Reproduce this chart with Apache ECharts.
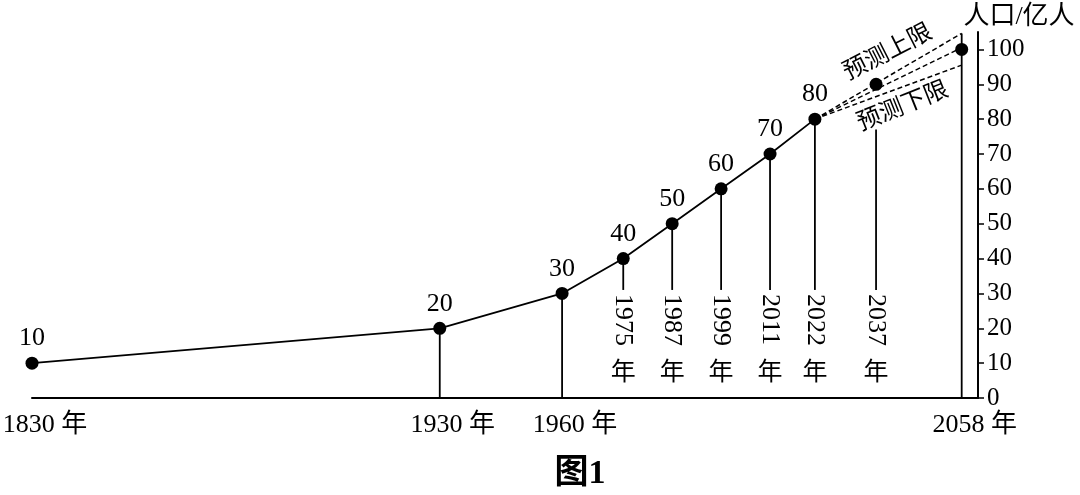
<!DOCTYPE html><html><head><meta charset="utf-8"><script src="https://cdn.jsdelivr.net/npm/echarts@6/dist/echarts.min.js"></script>
<style>html,body{margin:0;background:#fff}#c{width:1080px;height:495px}</style></head><body><div id="c"></div>
<script>
const years=[1830,1930,1960,1975,1987,1999,2011,2022];
const pops=[10,20,30,40,50,60,70,80];
const forecastYears=[2037,2058];
const forecastPops=[90,100];
const upperEnd=104.6, midEnd=100.5, lowerEnd=95.5;
const bottomLabelYears=[1830,1930,1960,2058];
const sideLabelYears=[1975,1987,1999,2011,2022,2037];
const yAxisName='人口/亿人';
// drops: [year, top value, bottom value]
const drops=[[1930,20,0],[1960,30,0],[1975,40,31],[1987,50,31],[1999,60,31],[2011,70,31],[2022,80,31],[2037,77,31],[2058,104.6,0]];
const F='"Liberation Serif","Noto Sans CJK SC",serif';
const c=echarts.init(document.getElementById('c'));
const dash={type:'line',symbol:'none',lineStyle:{color:'#000',width:1.5,type:[5,3]},silent:true,z:2};
c.setOption({
 animation:false,
 grid:{left:32,right:102,top:32,bottom:97},
 xAxis:{type:'value',min:1830,max:2062,axisLine:{lineStyle:{color:'#000',width:2}},axisTick:{show:false},axisLabel:{show:false},splitLine:{show:false}},
 yAxis:{type:'value',position:'right',min:0,max:105,interval:10,
  axisLine:{show:true,lineStyle:{color:'#000',width:2}},axisTick:{show:true,length:6,lineStyle:{color:'#000',width:1.5}},
  axisLabel:{color:'#000',fontSize:25,fontFamily:F,margin:9,showMaxLabel:false,formatter:v=>v>100?'':v},splitLine:{show:false}},
 series:[
  {type:'line',data:years.map((y,i)=>[y,pops[i]]),symbol:'circle',symbolSize:13,itemStyle:{color:'#000'},lineStyle:{color:'#000',width:1.8},
   label:{show:true,position:'top',distance:5,color:'#000',fontSize:26,fontFamily:F},z:3},
  Object.assign({data:[[2022,80],[2058,upperEnd]]},dash),
  Object.assign({data:[[2022,80],[2058,midEnd]]},dash),
  Object.assign({data:[[2022,80],[2058,lowerEnd]]},dash),
  {type:'scatter',data:forecastYears.map((y,i)=>[y,forecastPops[i]]),symbolSize:13,itemStyle:{color:'#000',opacity:1},z:4},
  {type:'custom',data:drops,z:1,renderItem:(p,api)=>{const a=api.coord([api.value(0),api.value(1)]),b=api.coord([api.value(0),api.value(2)]);
    return {type:'line',shape:{x1:a[0],y1:a[1],x2:b[0],y2:b[1]},style:{stroke:'#000',lineWidth:1.8}};}},
  {type:'custom',data:sideLabelYears.map(y=>[y,31]),renderItem:(p,api)=>{const a=api.coord([api.value(0),api.value(1)]);
    return {type:'group',children:[
     {type:'text',x:a[0],y:a[1]+4,rotation:-Math.PI/2,style:{text:String(api.value(0)),fontSize:26,fontFamily:F,fill:'#000',align:'left',verticalAlign:'middle'}},
     {type:'text',x:a[0],y:a[1]+83,style:{text:'年',fontSize:25,fontFamily:F,fill:'#000',align:'center',verticalAlign:'middle'}}]};}},
  {type:'custom',data:bottomLabelYears.map(y=>[y,0]),renderItem:(p,api)=>{const a=api.coord([api.value(0),api.value(1)]);
    return {type:'text',x:a[0]+13,y:a[1]+27,style:{text:api.value(0)+' 年',fontSize:26,fontFamily:F,fill:'#000',align:'center',verticalAlign:'middle'}};}}
 ],
 graphic:[
  {type:'text',x:1019,y:17,style:{text:yAxisName,fontSize:26,fontFamily:F,fill:'#000',align:'center',verticalAlign:'middle'}},
  {type:'text',x:888,y:53,rotation:0.47,style:{text:'预测上限',fontSize:24,fontFamily:F,fill:'#000',align:'center',verticalAlign:'middle'}},
  {type:'text',x:903,y:107,rotation:0.38,style:{text:'预测下限',fontSize:24,fontFamily:F,fill:'#000',align:'center',verticalAlign:'middle'}},
  {type:'text',x:580,y:474,style:{text:'图1',fontSize:34,fontWeight:'bold',fontFamily:F,fill:'#000',align:'center',verticalAlign:'middle'}}
 ]
});
</script></body></html>
